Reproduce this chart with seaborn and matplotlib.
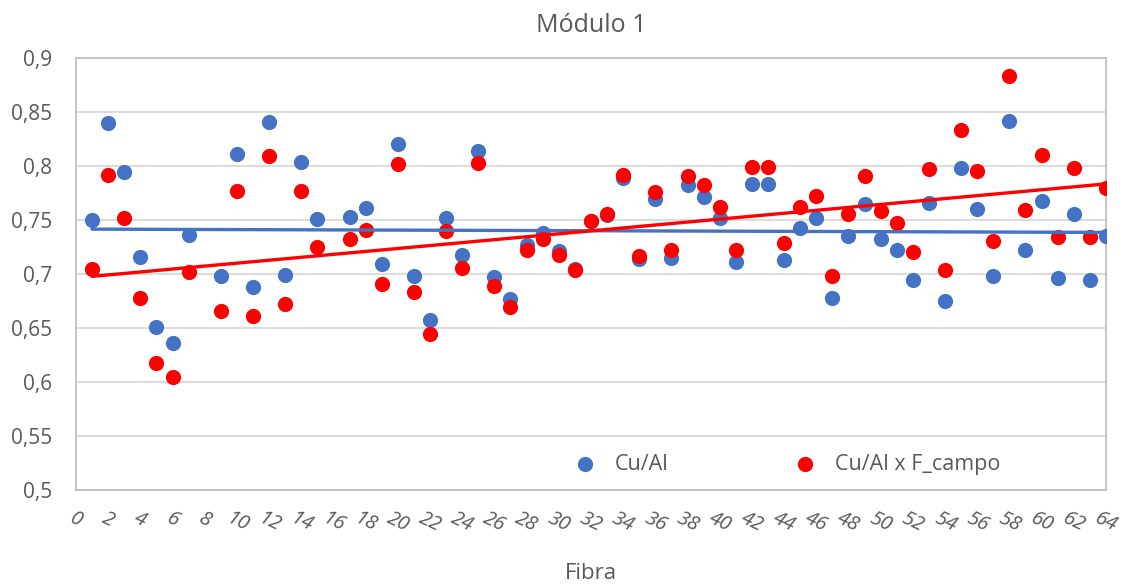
import numpy as np
import pandas as pd
import matplotlib
matplotlib.use("Agg")
import matplotlib.pyplot as plt
from matplotlib.ticker import FuncFormatter, MultipleLocator
import seaborn as sns

# Fibre numbers measured in module 1 (fibres 8 and 16 have no reading)
fibra = [1, 2, 3, 4, 5, 6, 7, 9, 10, 11, 12, 13, 14, 15,
         17, 18, 19, 20, 21, 22, 23, 24, 25, 26, 27, 28, 29, 30,
         31, 32, 33, 34, 35, 36, 37, 38, 39, 40, 41, 42, 43, 44,
         45, 46, 47, 48, 49, 50, 51, 52, 53, 54, 55, 56, 57, 58,
         59, 60, 61, 62, 63, 64]

cu_al = [0.750, 0.840, 0.794, 0.716, 0.651, 0.636, 0.736, 0.698, 0.811, 0.688,
         0.841, 0.699, 0.804, 0.751, 0.753, 0.761, 0.709, 0.820, 0.698, 0.657,
         0.752, 0.718, 0.814, 0.697, 0.677, 0.727, 0.738, 0.721, 0.705, 0.749,
         0.755, 0.789, 0.714, 0.769, 0.715, 0.782, 0.771, 0.752, 0.711, 0.783,
         0.783, 0.713, 0.743, 0.752, 0.678, 0.735, 0.765, 0.732, 0.722, 0.694,
         0.766, 0.675, 0.798, 0.760, 0.698, 0.842, 0.722, 0.768, 0.696, 0.756,
         0.694, 0.735]

cu_al_fcampo = [0.705, 0.792, 0.752, 0.678, 0.618, 0.605, 0.702, 0.666, 0.777, 0.661,
                0.809, 0.672, 0.777, 0.725, 0.732, 0.741, 0.691, 0.802, 0.683, 0.644,
                0.740, 0.706, 0.803, 0.689, 0.669, 0.722, 0.732, 0.718, 0.704, 0.749,
                0.756, 0.792, 0.717, 0.776, 0.722, 0.791, 0.782, 0.762, 0.722, 0.799,
                0.799, 0.729, 0.762, 0.772, 0.698, 0.756, 0.791, 0.758, 0.747, 0.720,
                0.797, 0.704, 0.833, 0.795, 0.731, 0.883, 0.759, 0.810, 0.734, 0.798,
                0.734, 0.780]

series_names = ["Cu/Al", "Cu/Al x F_campo"]
colors = ["#4472C4", "#FF0000"]

df = pd.DataFrame({"Fibra": fibra, "Cu/Al": cu_al, "Cu/Al x F_campo": cu_al_fcampo})

sns.set_theme(style="white")
plt.rcParams["font.family"] = ["Open Sans", "DejaVu Sans"]

text_gray = "#595959"
grid_gray = "#D9D9D9"
frame_gray = "#BFBFBF"

fig = plt.figure(figsize=(11.37, 5.85), dpi=100)
ax = fig.add_axes([0.0668, 0.1624, 0.9059, 0.7385])

# Scatter series
for name, col in zip(series_names, colors):
    sns.scatterplot(data=df, x="Fibra", y=name, ax=ax, color=col, s=120,
                    linewidth=0, label=name, zorder=3)

# Linear trend lines, one per series
for name, col in zip(series_names, colors):
    sns.regplot(data=df, x="Fibra", y=name, ax=ax, scatter=False, ci=None,
                color=col, line_kws={"linewidth": 2.4, "zorder": 4}, label=None)

ax.set_xlim(0, 64)
ax.set_ylim(0.5, 0.9)
ax.xaxis.set_major_locator(MultipleLocator(2))
ax.yaxis.set_major_locator(MultipleLocator(0.05))
ax.yaxis.set_major_formatter(FuncFormatter(lambda v, p: f"{v:.2f}".rstrip("0").replace(".", ",")))

ax.grid(axis="y", color=grid_gray, linewidth=1.3, zorder=0)
ax.grid(axis="x", visible=False)
for side in ax.spines.values():
    side.set_visible(True)
    side.set_color(frame_gray)
    side.set_linewidth(1.3)

ax.tick_params(axis="both", length=0, labelcolor=text_gray)
ax.tick_params(axis="y", pad=17, labelsize=15)
ax.tick_params(axis="x", pad=13, labelsize=14.5)
for lab in ax.get_xticklabels():
    lab.set_rotation(-25)
    lab.set_fontstyle("italic")

ax.set_ylabel("")
ax.set_xlabel("Fibra", color=text_gray, fontsize=16, labelpad=20)
ax.set_title("Módulo 1", color=text_gray, fontsize=18, pad=19)

handles, labels = ax.get_legend_handles_labels()
keep = [(h, l) for h, l in zip(handles, labels) if l in series_names]
leg = ax.legend([h for h, _ in keep], [l for _, l in keep], loc="center left",
                bbox_to_anchor=(0.465, 0.06), ncol=2, frameon=False,
                fontsize=15.5, columnspacing=5.3, handletextpad=0.4,
                borderaxespad=0, markerscale=1.0)
for t in leg.get_texts():
    t.set_color(text_gray)

fig.savefig("out.png", dpi=100, facecolor="white")
